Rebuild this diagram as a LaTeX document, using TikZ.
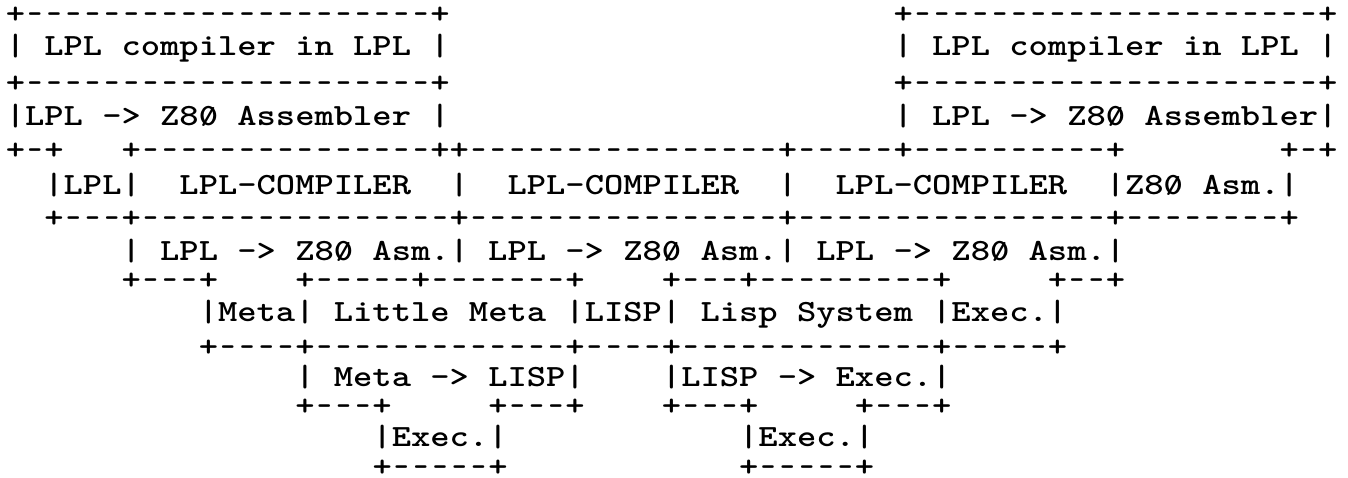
\documentclass[tikz,border=0pt]{standalone}
\usepackage{graphicx}

\newlength\cw
\setlength\cw{9.65pt}
\newcommand\asciifont{\fontsize{18.38pt}{22pt}\selectfont\ttfamily\bfseries\frenchspacing}
\newcommand\asc[1]{\scalebox{1}[.84]{#1}}
\newcommand\hr[1]{\foreach\i in {1,...,#1}{\makebox[\cw]{\scalebox{.75}[1]{-}}}}
\newcommand\sk[1]{\hskip#1\cw}
\newcommand\zs{\ooalign{0\cr\hidewidth\raisebox{.02em}{\scalebox{.8}{/}}\hidewidth\cr}}

\begin{document}
\begin{tikzpicture}[x=0.5pt,y=-0.5pt,
    row/.style={anchor=base west,inner sep=0pt,font=\asciifont}]
  \useasboundingbox (0,0) rectangle (1348,477);
  % the two LPL compilers on top
  \node[row] (r1) at (5.4,23) {\asc{+\hr{21}+\sk{23}+\hr{21}+}};
  \node[row] (r2) at (5.4,55) {\asc{|~LPL compiler in LPL~|\sk{23}|~LPL compiler in LPL~|}};
  \node[row] (r3) at (5.4,92) {\asc{+\hr{21}+\sk{23}+\hr{21}+}};
  \node[row] (r4) at (5.4,125) {\asc{|LPL -> Z8\zs{} Assembler~|\sk{23}|~LPL -> Z8\zs{} Assembler|}};
  \node[row] (r5) at (5.4,159) {\asc{+\hr{1}+\sk{3}+\hr{15}++\hr{16}+\hr{5}+\hr{10}+\sk{8}+\hr{1}+}};
  % bootstrap chain
  \node[row] (r6) at (5.4,194) {\asc{\sk{2}|LPL|\sk{2}LPL-COMPILER\sk{2}|\sk{2}LPL-COMPILER\sk{2}|\sk{2}LPL-COMPILER\sk{2}|Z8\zs{} Asm.|}};
  \node[row] (r7) at (5.4,227) {\asc{\sk{2}+\hr{3}+\hr{16}+\hr{16}+\hr{16}+\hr{8}+}};
  \node[row] (r8) at (5.4,260) {\asc{\sk{6}|~LPL -> Z8\zs{} Asm.|~LPL -> Z8\zs{} Asm.|~LPL -> Z8\zs{} Asm.|}};
  \node[row] (r9) at (5.4,289) {\asc{\sk{6}+\hr{3}+\sk{4}+\hr{5}+\hr{7}+\sk{4}+\hr{3}+\hr{9}+\sk{5}+\hr{2}+}};
  % Little Meta and Lisp System
  \node[row] (r10) at (5.4,321) {\asc{\sk{10}|Meta|~Little Meta~|LISP|~Lisp System~|Exec.|}};
  \node[row] (r11) at (5.4,356) {\asc{\sk{10}+\hr{4}+\hr{13}+\hr{4}+\hr{13}+\hr{5}+}};
  \node[row] (r12) at (5.4,386) {\asc{\sk{15}|~Meta -> LISP|\sk{4}|LISP -> Exec.|}};
  \node[row] (r13) at (5.4,415) {\asc{\sk{15}+\hr{3}+\sk{5}+\hr{3}+\sk{4}+\hr{3}+\sk{5}+\hr{3}+}};
  \node[row] (r14) at (5.4,446) {\asc{\sk{19}|Exec.|\sk{12}|Exec.|}};
  \node[row] (r15) at (5.4,476) {\asc{\sk{19}+\hr{5}+\sk{12}+\hr{5}+}};
\end{tikzpicture}
\end{document}
